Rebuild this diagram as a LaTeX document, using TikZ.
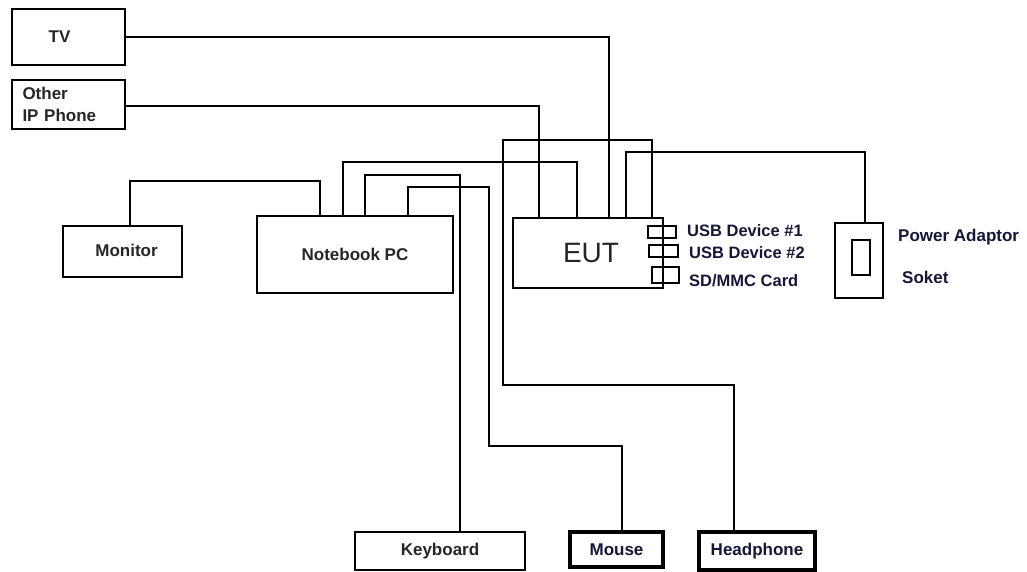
\documentclass[tikz,border=0pt]{standalone}
\usepackage{fontspec}
\setmainfont{Liberation Sans}
\definecolor{txt}{HTML}{262626}
\definecolor{navy}{HTML}{16163A}
\begin{document}
\begin{tikzpicture}[x=1pt,y=-1pt,
  box/.style={draw=black,line width=2.4pt,inner sep=0pt,font=\bfseries\fontsize{17}{20}\selectfont,text=txt},
  thick box/.style={box,line width=3.4pt,text=navy},
  conn/.style={draw=black,line width=2.4pt},
  port/.style={draw=black,line width=2.2pt,inner sep=0pt},
  lab/.style={anchor=west,inner sep=0pt,font=\bfseries\fontsize{16.5}{19}\selectfont,text=navy}]
\useasboundingbox (0,0) rectangle (1027,572);
% boxes
\node[box,minimum width=113,minimum height=56] (tv) at (68.5,37) {\hspace*{-18pt}TV};
\node[box,minimum width=113,minimum height=49,align=left,text width=100] (phone) at (68.5,104.5) {\hspace*{4pt}Other\\[2pt]\hspace*{4pt}IP Phone};
\node[box,minimum width=119,minimum height=51] (mon) at (122.5,251.5) {\raisebox{2pt}{\hspace*{8pt}Monitor}};
\node[box,minimum width=196,minimum height=77] (nb) at (355,254.5) {Notebook PC};
\node[box,minimum width=150,minimum height=70,font=\fontsize{28}{30}\selectfont] (eut) at (588,253) {\hspace*{6pt}EUT};
\node[box,minimum width=48,minimum height=75] (pwr) at (859,260.5) {};
\node[port,minimum width=18,minimum height=35] (pwrin) at (861,257.5) {};
\node[box,line width=2pt,minimum width=170,minimum height=38] (kb) at (440,551) {Keyboard};
\node[thick box,minimum width=93,minimum height=35] (mouse) at (616.5,549.5) {Mouse};
\node[thick box,minimum width=116,minimum height=38] (hp) at (757,551) {Headphone};
% ports
\node[port,minimum width=28,minimum height=12] (usb1) at (662,232) {};
\node[port,minimum width=29,minimum height=12] (usb2) at (663.5,251) {};
\node[port,minimum width=27,minimum height=16] (sd) at (665.5,275) {};
% labels
\node[lab] (l1) at (687,231) {USB Device \#1};
\node[lab] (l2) at (689,253) {USB Device \#2};
\node[lab] (l3) at (689,281) {SD/MMC Card};
\node[lab,font=\bfseries\fontsize{17}{20}\selectfont] (l4) at (898,237) {Power Adaptor};
\node[lab,font=\bfseries\fontsize{17}{20}\selectfont] (l5) at (902,277) {Soket};
% connectors
\draw[conn] (tv.east) -| ([xshift=21]eut.north);
\draw[conn] ([yshift=-1.5]phone.east) -| ([xshift=-49]eut.north);
\draw[conn] ([xshift=7.5]mon.north) -- ++(0,-44) -| ([xshift=-35]nb.north);
\draw[conn] ([xshift=-12]nb.north) -- ++(0,-53) -| ([xshift=-11]eut.north);
\draw[conn] ([xshift=10]nb.north) -- ++(0,-40) -| ([xshift=20]kb.north);
\draw[conn] ([xshift=53]nb.north) -- ++(0,-28) -- ++(81,0) -- ++(0,259) -| ([xshift=5.5]mouse.north);
\draw[conn] ([xshift=64]eut.north) -- ++(0,-77) -- ++(-149,0) -- ++(0,245) -| ([xshift=-23]hp.north);
\draw[conn] ([xshift=38]eut.north) -- ++(0,-65) -| ([xshift=6]pwr.north);
\end{tikzpicture}
\end{document}
